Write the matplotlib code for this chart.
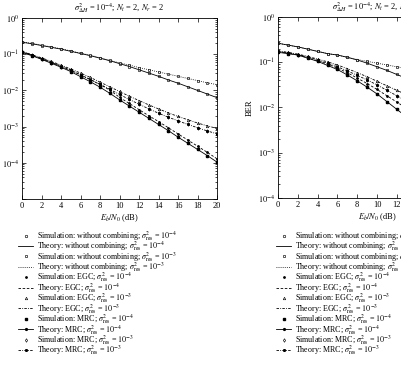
import numpy as np
import matplotlib
matplotlib.use("Agg")
import matplotlib.pyplot as plt
from matplotlib.ticker import FixedLocator, NullFormatter, LogLocator

plt.rcParams['font.family'] = ['Liberation Serif', 'DejaVu Serif']
plt.rcParams['mathtext.fontset'] = 'stix'
plt.rcParams['font.size'] = 6

# ---------------- data (log10 BER) ----------------
snr_left = np.arange(0, 21)
L_wc_1e4 = [-0.67, -0.71, -0.76, -0.81, -0.86, -0.92, -0.98, -1.04, -1.11, -1.18, -1.26,
            -1.34, -1.43, -1.52, -1.61, -1.71, -1.80, -1.90, -2.00, -2.10, -2.20]
L_wc_1e3 = [-0.66, -0.70, -0.75, -0.80, -0.85, -0.91, -0.97, -1.03, -1.10, -1.17, -1.24,
            -1.30, -1.37, -1.43, -1.49, -1.55, -1.61, -1.67, -1.73, -1.79, -1.84]
L_egc_1e4 = [-0.93, -1.02, -1.12, -1.22, -1.33, -1.44, -1.57, -1.70, -1.84, -1.99, -2.19,
             -2.36, -2.53, -2.70, -2.86, -3.03, -3.20, -3.37, -3.54, -3.71, -3.89]
L_egc_1e3 = [-0.92, -1.01, -1.10, -1.20, -1.30, -1.41, -1.52, -1.64, -1.77, -1.90, -2.03,
             -2.16, -2.28, -2.40, -2.51, -2.62, -2.72, -2.81, -2.90, -2.98, -3.05]
L_mrc_1e4 = [-0.95, -1.04, -1.14, -1.25, -1.36, -1.48, -1.62, -1.76, -1.91, -2.08, -2.26,
             -2.43, -2.60, -2.77, -2.94, -3.11, -3.29, -3.46, -3.63, -3.80, -3.98]
L_mrc_1e3 = [-0.94, -1.03, -1.13, -1.23, -1.34, -1.45, -1.57, -1.70, -1.83, -1.97, -2.11,
             -2.25, -2.38, -2.51, -2.63, -2.74, -2.84, -2.94, -3.03, -3.12, -3.20]

snr_right = np.arange(0, 14)
R_wc_1e4 = [-0.58, -0.62, -0.66, -0.71, -0.76, -0.81, -0.84, -0.89, -0.95, -1.02, -1.10, -1.18, -1.27, -1.36]
R_wc_1e3 = [-0.58, -0.62, -0.66, -0.71, -0.76, -0.81, -0.84, -0.89, -0.94, -0.98, -1.02, -1.06, -1.10, -1.14]
R_egc_1e4 = [-0.77, -0.80, -0.84, -0.90, -0.97, -1.04, -1.13, -1.23, -1.35, -1.47, -1.60, -1.74, -1.88, -2.02]
R_egc_1e3 = [-0.75, -0.78, -0.82, -0.87, -0.93, -0.99, -1.06, -1.14, -1.23, -1.32, -1.42, -1.52, -1.62, -1.72]
R_mrc_1e4 = [-0.78, -0.81, -0.84, -0.91, -0.98, -1.07, -1.16, -1.28, -1.41, -1.55, -1.70, -1.87, -2.04, -2.21]
R_mrc_1e3 = [-0.76, -0.79, -0.83, -0.88, -0.95, -1.02, -1.10, -1.19, -1.29, -1.39, -1.50, -1.62, -1.74, -1.86]

x_ticks = [0, 2, 4, 6, 8, 10, 12, 14, 16, 18, 20]
labels = [
    r'Simulation: without combining; $\sigma^2_{\rm res}$ = $10^{-4}$',
    r'Theory: without combining; $\sigma^2_{\rm res}$ = $10^{-4}$',
    r'Simulation: without combining; $\sigma^2_{\rm res}$ = $10^{-3}$',
    r'Theory: without combining; $\sigma^2_{\rm res}$ = $10^{-3}$',
    r'Simulation: EGC; $\sigma^2_{\rm res}$ = $10^{-4}$',
    r'Theory: EGC; $\sigma^2_{\rm res}$ = $10^{-4}$',
    r'Simulation: EGC; $\sigma^2_{\rm res}$ = $10^{-3}$',
    r'Theory: EGC; $\sigma^2_{\rm res}$ = $10^{-3}$',
    r'Simulation: MRC; $\sigma^2_{\rm res}$ = $10^{-4}$',
    r'Theory: MRC; $\sigma^2_{\rm res}$ = $10^{-4}$',
    r'Simulation: MRC; $\sigma^2_{\rm res}$ = $10^{-3}$',
    r'Theory: MRC; $\sigma^2_{\rm res}$ = $10^{-3}$',
]
title_left = r'$\sigma^2_{\Delta H}$ = $10^{-4}$; $N_t$ = 2, $N_r$ = 2'
title_right = r'$\sigma^2_{\Delta H}$ = $10^{-4}$; $N_t$ = 2, $N_r$ = 1'

W, H = 401, 365
fig = plt.figure(figsize=(W / 100, H / 100), dpi=100)


def draw(ax, snr, wc4, wc3, egc4, egc3, mrc4, mrc3):
    p = lambda a: 10 ** np.asarray(a)
    lw = 0.6
    ms = 1.8
    mew = 0.45
    hs = []
    hs += ax.plot(snr, p(wc4), ls='none', marker='o', ms=ms, mfc='white', mec='k', mew=mew, color='k')
    hs += ax.plot(snr, p(wc4), ls='-', lw=lw, color='k')
    hs += ax.plot(snr, p(wc3), ls='none', marker='s', ms=ms, mfc='white', mec='k', mew=mew, color='k')
    hs += ax.plot(snr, p(wc3), ls=(0, (1, 1.5)), lw=lw, color='k')
    hs += ax.plot(snr, p(egc4), ls='none', marker='.', ms=2.0, color='k')
    hs += ax.plot(snr, p(egc4), ls=(0, (3, 2)), lw=lw, color='k')
    hs += ax.plot(snr, p(egc3), ls='none', marker='^', ms=ms, mfc='white', mec='k', mew=mew, color='k')
    hs += ax.plot(snr, p(egc3), ls=(0, (3, 1.5, 1, 1.5)), lw=lw, color='k')
    hs += ax.plot(snr, p(mrc4), ls='none', marker='s', ms=1.6, color='k')
    hs += ax.plot(snr, p(mrc4), ls='-', lw=lw, marker='o', ms=1.3, color='k')
    hs += ax.plot(snr, p(mrc3), ls='none', marker='d', ms=ms, mfc='white', mec='k', mew=mew, color='k')
    hs += ax.plot(snr, p(mrc3), ls=(0, (3, 1.5, 1, 1.5)), lw=lw, marker='*', ms=1.8, color='k')
    ax.set_yscale('log')
    ax.set_xlim(0, 20)
    ax.set_xticks(x_ticks)
    ax.tick_params(which='both', direction='in', top=True, right=True, width=0.5, pad=2, labelsize=6)
    ax.tick_params(which='major', length=3)
    ax.tick_params(which='minor', length=1.5)
    for s in ax.spines.values():
        s.set_linewidth(0.6)
    ax.set_xlabel(r'$E_b/N_0$ (dB)', fontsize=6, labelpad=2)
    return hs


axL = fig.add_axes([22 / W, 1 - 199 / H, 195 / W, 181 / H])
hL = draw(axL, snr_left, L_wc_1e4, L_wc_1e3, L_egc_1e4, L_egc_1e3, L_mrc_1e4, L_mrc_1e3)
axL.set_ylim(1e-5, 1)
axL.yaxis.set_major_locator(FixedLocator([1e0, 1e-1, 1e-2, 1e-3, 1e-4, 1e-5]))
axL.set_yticklabels([r'$10^{0}$', r'$10^{-1}$', r'$10^{-2}$', r'$10^{-3}$', r'$10^{-4}$', ''])
axL.yaxis.set_minor_locator(LogLocator(base=10, subs=np.arange(2, 10), numticks=20))
axL.yaxis.set_minor_formatter(NullFormatter())
axL.set_title(title_left, fontsize=6, pad=5)

axR = fig.add_axes([278 / W, 1 - 198 / H, 198 / W, 181 / H])
hR = draw(axR, snr_right, R_wc_1e4, R_wc_1e3, R_egc_1e4, R_egc_1e3, R_mrc_1e4, R_mrc_1e3)
axR.set_ylim(1e-4, 1)
axR.yaxis.set_major_locator(FixedLocator([1e0, 1e-1, 1e-2, 1e-3, 1e-4]))
axR.set_yticklabels([r'$10^{0}$', r'$10^{-1}$', r'$10^{-2}$', r'$10^{-3}$', r'$10^{-4}$'])
axR.yaxis.set_minor_locator(LogLocator(base=10, subs=np.arange(2, 10), numticks=20))
axR.yaxis.set_minor_formatter(NullFormatter())
axR.set_ylabel('BER', fontsize=6, labelpad=3)
axR.set_title(title_right, fontsize=6, pad=5)

leg_kw = dict(loc='upper left', frameon=False, fontsize=5.8, handlelength=1.9,
              handletextpad=0.4, labelspacing=-0.42, borderaxespad=0, borderpad=0, numpoints=1)
fig.legend(hL, labels, bbox_to_anchor=(18 / W, 1 - 229 / H), **leg_kw)
fig.legend(hR, labels, bbox_to_anchor=(276 / W, 1 - 229 / H), **leg_kw)

fig.savefig('out.png', dpi=100)
